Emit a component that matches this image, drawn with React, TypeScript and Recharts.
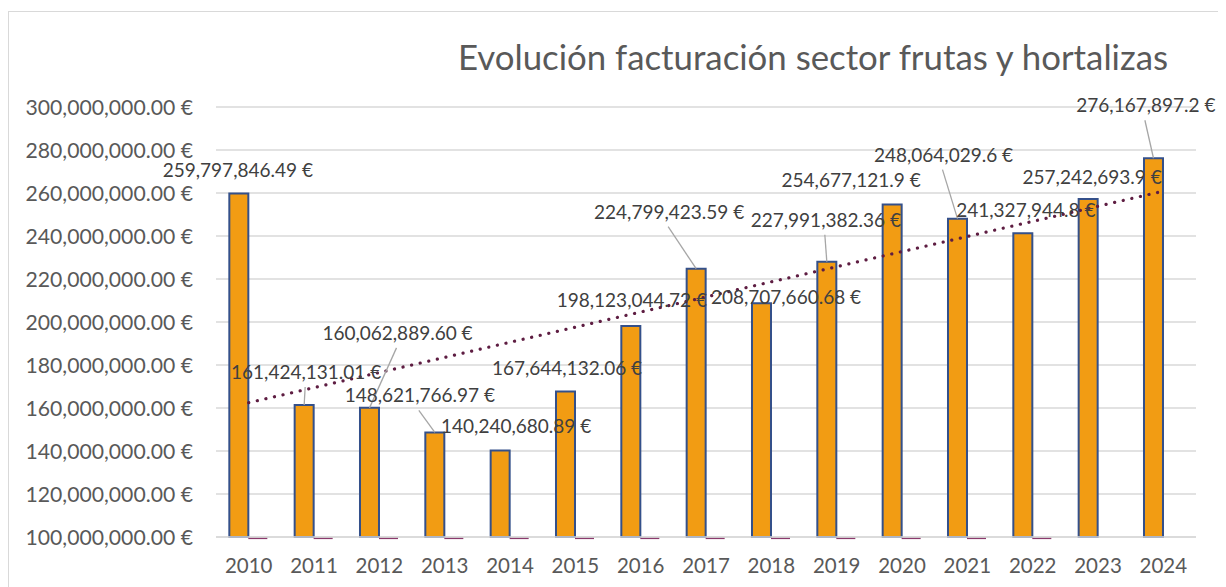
import React from 'react';
import { ComposedChart, Bar, Line, XAxis, YAxis, CartesianGrid, LabelList } from 'recharts';

const years = ['2010', '2011', '2012', '2013', '2014', '2015', '2016', '2017', '2018', '2019', '2020', '2021', '2022', '2023', '2024'];
const revenue = [259797846.49, 161424131.01, 160062889.6, 148621766.97, 140240680.89, 167644132.06, 198123044.72, 224799423.59, 208707660.68, 227991382.36, 254677121.9, 248064029.6, 241327944.8, 257242693.9, 276167897.2];
const revenueLabels = ['259,797,846.49 €', '161,424,131.01 €', '160,062,889.60 €', '148,621,766.97 €', '140,240,680.89 €', '167,644,132.06 €', '198,123,044.72 €', '224,799,423.59 €', '208,707,660.68 €', '227,991,382.36 €', '254,677,121.9 €', '248,064,029.6 €', '241,327,944.8 €', '257,242,693.9 €', '276,167,897.2 €'];
const secondary = [0, 0, 0, 0, 0, 0, 0, 0, 0, 0, 0, 0, 0, null, null];
const trend = [162460000, null, null, null, null, null, null, null, null, null, null, null, null, null, 260860000];
const yTicks = [100000000, 120000000, 140000000, 160000000, 180000000, 200000000, 220000000, 240000000, 260000000, 280000000, 300000000];

// label placement (offset from bar top-centre) and leader flags
const labelOffsets = [[-1, -23], [2, -33], [28, -75], [-15, -37], [16, -24], [1.5, -23.5], [1, -26], [-27, -57], [24.5, -6.6], [-1, -42], [-41, -24], [-14, -64], [3, -23.4], [4, -22], [-7.6, -53]];
const leaders = [false, true, true, true, false, false, false, true, false, true, false, true, false, false, true];

const data = years.map((y, i) => ({ year: y, revenue: revenue[i], secondary: secondary[i], trend: trend[i] }));

const FONT = 'Lato, "Open Sans", sans-serif';
const fmtTick = (v: number) => v.toLocaleString('en-US', { minimumFractionDigits: 2, maximumFractionDigits: 2 }) + ' €';

const DashShape = (props: any) => {
  const { x, y, width, payload } = props;
  if (payload == null || payload.secondary == null) return <g />;
  return <line x1={x} x2={x + width} y1={y + 1.3} y2={y + 1.3} stroke="#8A3A6C" strokeWidth={1.6} />;
};

const LabelContent = (props: any) => {
  const { viewBox, index } = props;
  if (!viewBox) return null;
  const bx = viewBox.x + viewBox.width / 2;
  const by = viewBox.y;
  const [dx, dy] = labelOffsets[index];
  const lx = bx + dx;
  const ly = by + dy;
  return (
    <g>
      {leaders[index] && <line x1={lx - 1} y1={ly + 15} x2={bx} y2={by} stroke="#A6A6A6" strokeWidth={1.3} />}
      <text x={lx} y={ly} dy="0.36em" textAnchor="middle" fill="#404040" fontSize={19} fontFamily={FONT}>
        {revenueLabels[index]}
      </text>
    </g>
  );
};

export default function App() {
  return (
    <div style={{ position: 'relative', marginTop: 3, width: 1214, height: 576, border: '1px solid #D9D9D9', borderBottom: 'none', boxSizing: 'border-box', background: '#fff' }}>
      <div style={{ position: 'absolute', left: 354, width: 900, top: 24, textAlign: 'center', fontFamily: FONT, fontSize: 34.8, color: '#595959', whiteSpace: 'nowrap' }}>
        Evolución facturación sector frutas y hortalizas
      </div>
      <ComposedChart width={1212} height={575} data={data} margin={{ top: 95, right: 25, bottom: 0, left: 0 }} barCategoryGap="20.4%" barGap={0}>
        <CartesianGrid vertical={false} stroke="#D9D9D9" strokeWidth={1.5} />
        <XAxis dataKey="year" height={50} tickLine={false} tickSize={0} tickMargin={21} axisLine={{ stroke: '#D9D9D9', strokeWidth: 1.5 }} tick={{ fill: '#595959', fontSize: 20.5, fontFamily: FONT }} interval={0} />
        <YAxis width={207} domain={[100000000, 300000000]} ticks={yTicks} tickFormatter={fmtTick} tickLine={false} tickSize={0} tickMargin={23} axisLine={false} tick={{ fill: '#595959', fontSize: 21.2, fontFamily: FONT }} interval={0} />
        <YAxis yAxisId="minor" hide domain={[0, 1]} orientation="right" />
        <Bar dataKey="revenue" fill="#F29C13" stroke="#34508A" strokeWidth={2} isAnimationActive={false}>
          <LabelList dataKey="revenue" content={LabelContent} />
        </Bar>
        <Bar dataKey="secondary" yAxisId="minor" fill="#8A3A6C" shape={DashShape} isAnimationActive={false} />
        <Line dataKey="trend" connectNulls dot={false} stroke="#5E1D42" strokeWidth={3.2} strokeDasharray="0.1 8.7" strokeLinecap="round" isAnimationActive={false} activeDot={false} />
      </ComposedChart>
    </div>
  );
}
